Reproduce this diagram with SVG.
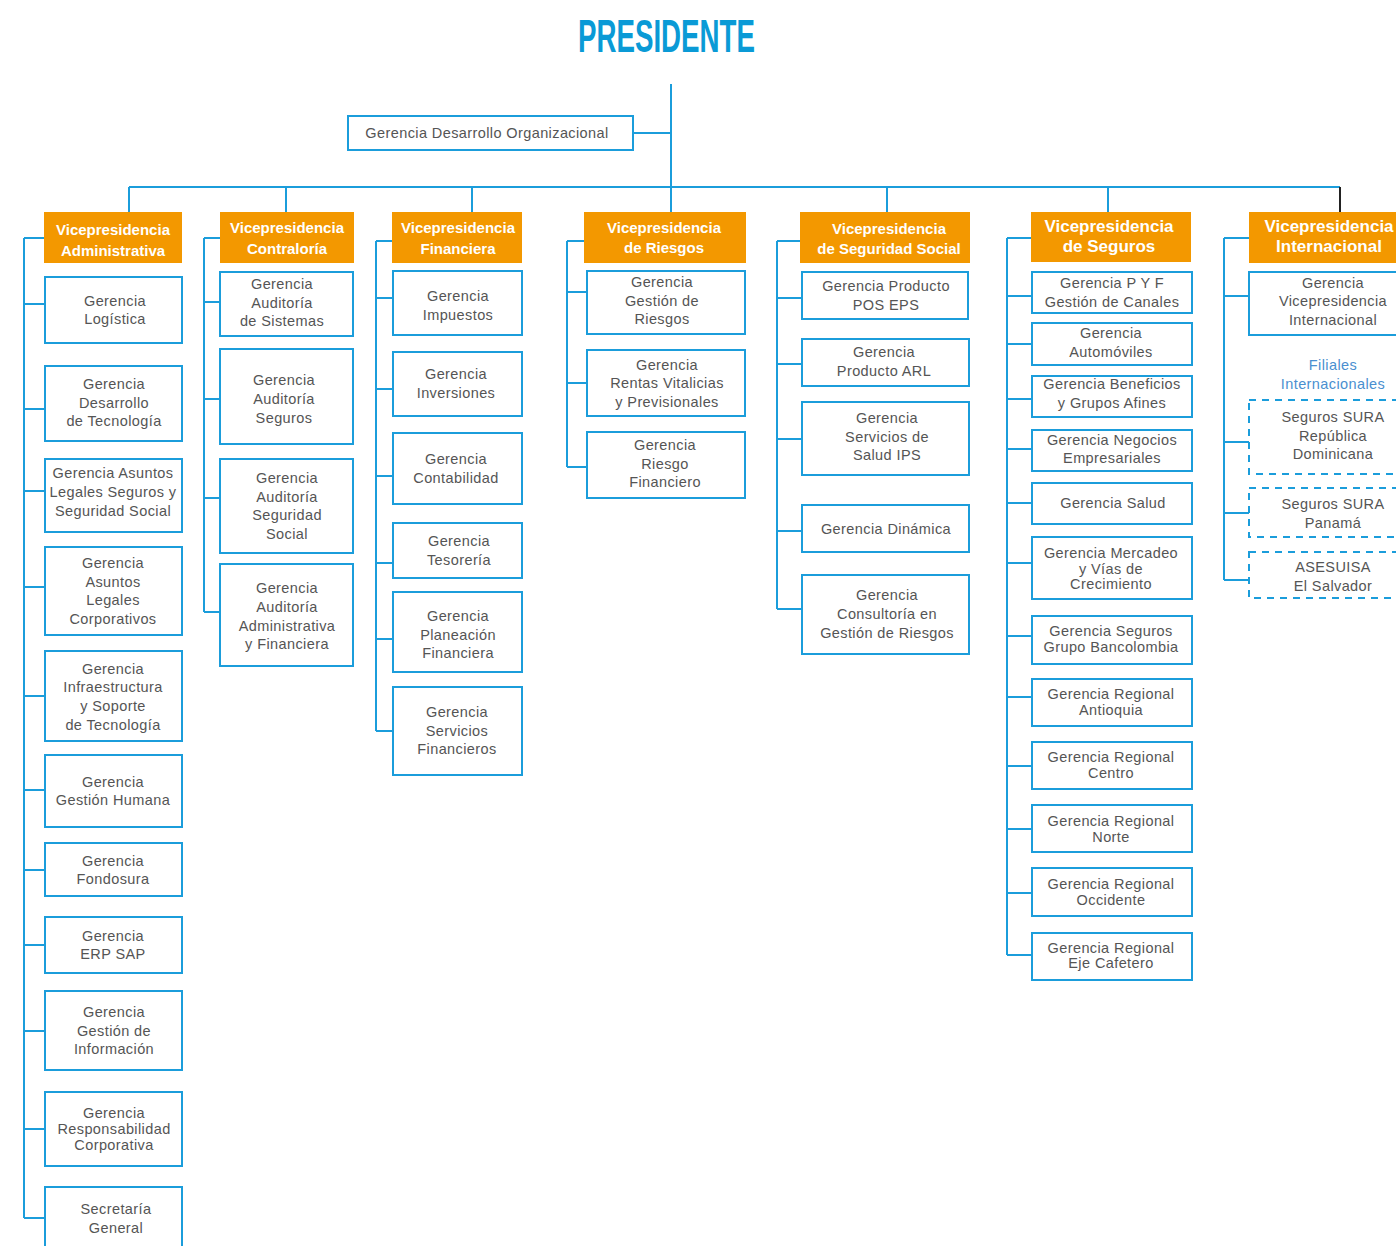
<svg xmlns="http://www.w3.org/2000/svg" width="1396" height="1246" viewBox="0 0 1396 1246">
<style>
.ln{stroke:#1b9ddb;stroke-width:2;fill:none}
.bk{stroke:#222;stroke-width:2;fill:none}
.bx{fill:#fff;stroke:#1b9ddb;stroke-width:2}
.ds{fill:none;stroke:#1b9ddb;stroke-width:2;stroke-dasharray:7 6}
.vp{fill:#f39800}
.t{font-family:"Liberation Sans",Arial,sans-serif;font-size:14.5px;letter-spacing:0.4px;fill:#555;text-anchor:middle}
.vt{font-family:"Liberation Sans",Arial,sans-serif;font-size:15px;font-weight:bold;fill:#fff;text-anchor:middle}
.vl{font-size:17px}
.fi{fill:#4a8fd0}
</style>
<rect width="1396" height="1246" fill="#fff"/>
<g id="connectors">
<path class="ln" d="M671 84V212M634 133H671M129 187H1340M129 187V212M286 187V212M472 187V212M887 187V212M1108 187V212"/>
<path class="bk" d="M1340 187V212"/>
<path class="ln" d="M24 238V1218M24 238H44M24 304H45M24 409H45M24 491H45M24 587H45M24 696H45M24 790H45M24 870H45M24 945H45M24 1031H45M24 1129H45M24 1218H45"/>
<path class="ln" d="M204 238V612M204 238H220M204 302H220M204 399H220M204 498H220M204 612H220"/>
<path class="ln" d="M376 241V731M376 241H392M376 298H393M376 389H393M376 476H393M376 563H393M376 639H393M376 731H393"/>
<path class="ln" d="M567 241V467M567 241H584M567 292H587M567 383H587M567 467H587"/>
<path class="ln" d="M777 241V609M777 241H800M777 298H802M777 364H802M777 439H802M777 531H802M777 609H802"/>
<path class="ln" d="M1007 238V955M1007 238H1031M1007 296H1032M1007 344H1032M1007 399H1032M1007 449H1032M1007 503H1032M1007 563H1032M1007 636H1032M1007 697H1032M1007 766H1032M1007 829H1032M1007 893H1032M1007 955H1032"/>
<path class="ln" d="M1224 238V580M1224 238H1249M1224 296H1249M1224 442H1249M1224 513H1249M1224 580H1249"/>
</g>
<g id="presidente"><text x="578" y="52" textLength="177" lengthAdjust="spacingAndGlyphs" style="font-family:'Liberation Sans',Arial,sans-serif;font-size:47px;font-weight:bold;fill:#0a9ad6">PRESIDENTE</text></g>
<g id="gdo"><rect class="bx" x="348" y="116" width="285" height="34"/><text class="t" x="487" y="138">Gerencia Desarrollo Organizacional</text></g>

<g id="vp-admin"><rect class="vp" x="44" y="212" width="138" height="51"/><text class="vt" x="113" y="235">Vicepresidencia</text><text class="vt" x="113" y="256">Administrativa</text></g>
<g id="vp-contraloria"><rect class="vp" x="220" y="212" width="134" height="51"/><text class="vt" x="287" y="233">Vicepresidencia</text><text class="vt" x="287" y="254">Contraloría</text></g>
<g id="vp-financiera"><rect class="vp" x="392" y="212" width="130" height="51"/><text class="vt" x="458" y="233">Vicepresidencia</text><text class="vt" x="458" y="254">Financiera</text></g>
<g id="vp-riesgos"><rect class="vp" x="584" y="212" width="162" height="51"/><text class="vt" x="664" y="233">Vicepresidencia</text><text class="vt" x="664" y="253">de Riesgos</text></g>
<g id="vp-segsocial"><rect class="vp" x="800" y="212" width="170" height="51"/><text class="vt" x="889" y="234">Vicepresidencia</text><text class="vt" x="889" y="254">de Seguridad Social</text></g>
<g id="vp-seguros"><rect class="vp" x="1031" y="212" width="160" height="50"/><text class="vt vl" x="1109" y="232">Vicepresidencia</text><text class="vt vl" x="1109" y="252">de Seguros</text></g>
<g id="vp-internacional"><rect class="vp" x="1249" y="212" width="150" height="51"/><text class="vt vl" x="1329" y="232">Vicepresidencia</text><text class="vt vl" x="1329" y="252">Internacional</text></g>

<g id="a1"><rect class="bx" x="45" y="277" width="137" height="66"/><text class="t" x="115" y="306">Gerencia</text><text class="t" x="115" y="324">Logística</text></g>
<g id="a2"><rect class="bx" x="45" y="366" width="137" height="75"/><text class="t" x="114" y="389">Gerencia</text><text class="t" x="114" y="408">Desarrollo</text><text class="t" x="114" y="426">de Tecnología</text></g>
<g id="a3"><rect class="bx" x="45" y="459" width="137" height="73"/><text class="t" x="113" y="478">Gerencia Asuntos</text><text class="t" x="113" y="497">Legales Seguros y</text><text class="t" x="113" y="516">Seguridad Social</text></g>
<g id="a4"><rect class="bx" x="45" y="547" width="137" height="88"/><text class="t" x="113" y="568">Gerencia</text><text class="t" x="113" y="587">Asuntos</text><text class="t" x="113" y="605">Legales</text><text class="t" x="113" y="624">Corporativos</text></g>
<g id="a5"><rect class="bx" x="45" y="651" width="137" height="90"/><text class="t" x="113" y="674">Gerencia</text><text class="t" x="113" y="692">Infraestructura</text><text class="t" x="113" y="711">y Soporte</text><text class="t" x="113" y="730">de Tecnología</text></g>
<g id="a6"><rect class="bx" x="45" y="755" width="137" height="72"/><text class="t" x="113" y="787">Gerencia</text><text class="t" x="113" y="805">Gestión Humana</text></g>
<g id="a7"><rect class="bx" x="45" y="843" width="137" height="53"/><text class="t" x="113" y="866">Gerencia</text><text class="t" x="113" y="884">Fondosura</text></g>
<g id="a8"><rect class="bx" x="45" y="917" width="137" height="56"/><text class="t" x="113" y="941">Gerencia</text><text class="t" x="113" y="959">ERP SAP</text></g>
<g id="a9"><rect class="bx" x="45" y="991" width="137" height="79"/><text class="t" x="114" y="1017">Gerencia</text><text class="t" x="114" y="1036">Gestión de</text><text class="t" x="114" y="1054">Información</text></g>
<g id="a10"><rect class="bx" x="45" y="1092" width="137" height="74"/><text class="t" x="114" y="1118">Gerencia</text><text class="t" x="114" y="1134">Responsabilidad</text><text class="t" x="114" y="1150">Corporativa</text></g>
<g id="a11"><rect class="bx" x="45" y="1187" width="137" height="70"/><text class="t" x="116" y="1214">Secretaría</text><text class="t" x="116" y="1233">General</text></g>

<g id="c1"><rect class="bx" x="220" y="272" width="133" height="64"/><text class="t" x="282" y="289">Gerencia</text><text class="t" x="282" y="308">Auditoría</text><text class="t" x="282" y="326">de Sistemas</text></g>
<g id="c2"><rect class="bx" x="220" y="349" width="133" height="95"/><text class="t" x="284" y="385">Gerencia</text><text class="t" x="284" y="404">Auditoría</text><text class="t" x="284" y="423">Seguros</text></g>
<g id="c3"><rect class="bx" x="220" y="459" width="133" height="94"/><text class="t" x="287" y="483">Gerencia</text><text class="t" x="287" y="502">Auditoría</text><text class="t" x="287" y="520">Seguridad</text><text class="t" x="287" y="539">Social</text></g>
<g id="c4"><rect class="bx" x="220" y="564" width="133" height="102"/><text class="t" x="287" y="593">Gerencia</text><text class="t" x="287" y="612">Auditoría</text><text class="t" x="287" y="631">Administrativa</text><text class="t" x="287" y="649">y Financiera</text></g>

<g id="f1"><rect class="bx" x="393" y="271" width="129" height="64"/><text class="t" x="458" y="301">Gerencia</text><text class="t" x="458" y="320">Impuestos</text></g>
<g id="f2"><rect class="bx" x="393" y="352" width="129" height="64"/><text class="t" x="456" y="379">Gerencia</text><text class="t" x="456" y="398">Inversiones</text></g>
<g id="f3"><rect class="bx" x="393" y="433" width="129" height="71"/><text class="t" x="456" y="464">Gerencia</text><text class="t" x="456" y="483">Contabilidad</text></g>
<g id="f4"><rect class="bx" x="393" y="523" width="129" height="55"/><text class="t" x="459" y="546">Gerencia</text><text class="t" x="459" y="565">Tesorería</text></g>
<g id="f5"><rect class="bx" x="393" y="592" width="129" height="80"/><text class="t" x="458" y="621">Gerencia</text><text class="t" x="458" y="640">Planeación</text><text class="t" x="458" y="658">Financiera</text></g>
<g id="f6"><rect class="bx" x="393" y="687" width="129" height="88"/><text class="t" x="457" y="717">Gerencia</text><text class="t" x="457" y="736">Servicios</text><text class="t" x="457" y="754">Financieros</text></g>

<g id="r1"><rect class="bx" x="587" y="271" width="158" height="63"/><text class="t" x="662" y="287">Gerencia</text><text class="t" x="662" y="306">Gestión de</text><text class="t" x="662" y="324">Riesgos</text></g>
<g id="r2"><rect class="bx" x="587" y="350" width="158" height="66"/><text class="t" x="667" y="370">Gerencia</text><text class="t" x="667" y="388">Rentas Vitalicias</text><text class="t" x="667" y="407">y Previsionales</text></g>
<g id="r3"><rect class="bx" x="587" y="432" width="158" height="66"/><text class="t" x="665" y="450">Gerencia</text><text class="t" x="665" y="469">Riesgo</text><text class="t" x="665" y="487">Financiero</text></g>

<g id="s1"><rect class="bx" x="802" y="272" width="166" height="47"/><text class="t" x="886" y="291">Gerencia Producto</text><text class="t" x="886" y="310">POS EPS</text></g>
<g id="s2"><rect class="bx" x="802" y="339" width="167" height="47"/><text class="t" x="884" y="357">Gerencia</text><text class="t" x="884" y="376">Producto ARL</text></g>
<g id="s3"><rect class="bx" x="802" y="402" width="167" height="73"/><text class="t" x="887" y="423">Gerencia</text><text class="t" x="887" y="442">Servicios de</text><text class="t" x="887" y="460">Salud IPS</text></g>
<g id="s4"><rect class="bx" x="802" y="505" width="167" height="47"/><text class="t" x="886" y="534">Gerencia Dinámica</text></g>
<g id="s5"><rect class="bx" x="802" y="575" width="167" height="79"/><text class="t" x="887" y="600">Gerencia</text><text class="t" x="887" y="619">Consultoría en</text><text class="t" x="887" y="638">Gestión de Riesgos</text></g>

<g id="g1"><rect class="bx" x="1032" y="272" width="160" height="41"/><text class="t" x="1112" y="288">Gerencia P Y F</text><text class="t" x="1112" y="307">Gestión de Canales</text></g>
<g id="g2"><rect class="bx" x="1032" y="323" width="160" height="42"/><text class="t" x="1111" y="338">Gerencia</text><text class="t" x="1111" y="357">Automóviles</text></g>
<g id="g3"><rect class="bx" x="1032" y="376" width="160" height="41"/><text class="t" x="1112" y="389">Gerencia Beneficios</text><text class="t" x="1112" y="408">y Grupos Afines</text></g>
<g id="g4"><rect class="bx" x="1032" y="430" width="160" height="41"/><text class="t" x="1112" y="445">Gerencia Negocios</text><text class="t" x="1112" y="463">Empresariales</text></g>
<g id="g5"><rect class="bx" x="1032" y="483" width="160" height="41"/><text class="t" x="1113" y="508">Gerencia Salud</text></g>
<g id="g6"><rect class="bx" x="1032" y="537" width="160" height="62"/><text class="t" x="1111" y="558">Gerencia Mercadeo</text><text class="t" x="1111" y="574">y Vías de</text><text class="t" x="1111" y="589">Crecimiento</text></g>
<g id="g7"><rect class="bx" x="1032" y="616" width="160" height="48"/><text class="t" x="1111" y="636">Gerencia Seguros</text><text class="t" x="1111" y="652">Grupo Bancolombia</text></g>
<g id="g8"><rect class="bx" x="1032" y="679" width="160" height="47"/><text class="t" x="1111" y="699">Gerencia Regional</text><text class="t" x="1111" y="715">Antioquia</text></g>
<g id="g9"><rect class="bx" x="1032" y="742" width="160" height="47"/><text class="t" x="1111" y="762">Gerencia Regional</text><text class="t" x="1111" y="778">Centro</text></g>
<g id="g10"><rect class="bx" x="1032" y="805" width="160" height="47"/><text class="t" x="1111" y="826">Gerencia Regional</text><text class="t" x="1111" y="842">Norte</text></g>
<g id="g11"><rect class="bx" x="1032" y="868" width="160" height="48"/><text class="t" x="1111" y="889">Gerencia Regional</text><text class="t" x="1111" y="905">Occidente</text></g>
<g id="g12"><rect class="bx" x="1032" y="933" width="160" height="47"/><text class="t" x="1111" y="953">Gerencia Regional</text><text class="t" x="1111" y="968">Eje Cafetero</text></g>

<g id="i1"><rect class="bx" x="1249" y="272" width="152" height="63"/><text class="t" x="1333" y="288">Gerencia</text><text class="t" x="1333" y="306">Vicepresidencia</text><text class="t" x="1333" y="325">Internacional</text></g>
<g id="filiales"><text class="t fi" x="1333" y="370">Filiales</text><text class="t fi" x="1333" y="389">Internacionales</text></g>
<g id="i2"><rect class="ds" x="1249" y="400" width="152" height="74"/><text class="t" x="1333" y="422">Seguros SURA</text><text class="t" x="1333" y="441">República</text><text class="t" x="1333" y="459">Dominicana</text></g>
<g id="i3"><rect class="ds" x="1249" y="488" width="152" height="49"/><text class="t" x="1333" y="509">Seguros SURA</text><text class="t" x="1333" y="528">Panamá</text></g>
<g id="i4"><rect class="ds" x="1249" y="552" width="152" height="46"/><text class="t" x="1333" y="572">ASESUISA</text><text class="t" x="1333" y="591">El Salvador</text></g>
</svg>
